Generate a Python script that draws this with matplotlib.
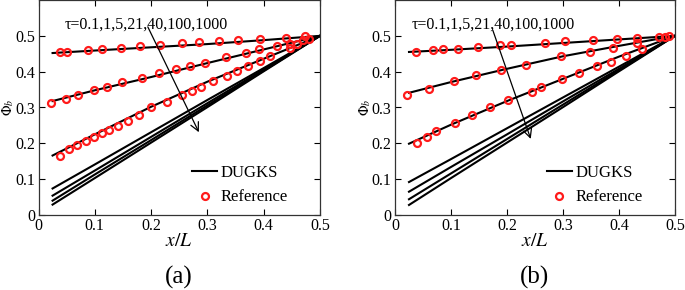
import matplotlib
matplotlib.use("Agg")
import matplotlib.pyplot as plt

plt.rcParams['font.family'] = ['Liberation Serif', 'DejaVu Serif']
plt.rcParams['mathtext.fontset'] = 'stix'

taus_label = r"τ=0.1,1,5,21,40,100,1000"

# DUGKS line sample positions (x/L)
line_x = [0.025, 0.1, 0.2, 0.3, 0.4, 0.5]

# Panel (a) DUGKS lines, tau = 0.1, 1, 5, 21, 40, 100, 1000
a_lines = [
    [0.452, 0.459, 0.468, 0.477, 0.488, 0.5],
    [0.318, 0.348, 0.385, 0.424, 0.462, 0.5],
    [0.166, 0.225, 0.302, 0.372, 0.436, 0.5],
    [0.074, 0.141, 0.231, 0.321, 0.410, 0.5],
    [0.054, 0.124, 0.218, 0.312, 0.406, 0.5],
    [0.040, 0.113, 0.209, 0.306, 0.403, 0.5],
    [0.029, 0.103, 0.202, 0.301, 0.401, 0.5],
]
# Panel (a) reference points
a_ref1_x = [0.038, 0.051, 0.088, 0.112, 0.146, 0.180, 0.215, 0.254, 0.285, 0.321, 0.355, 0.393, 0.440, 0.473]
a_ref1_y = [0.455, 0.455, 0.460, 0.462, 0.466, 0.471, 0.474, 0.479, 0.484, 0.485, 0.488, 0.492, 0.495, 0.499]
a_ref2_x = [0.023, 0.048, 0.071, 0.098, 0.122, 0.149, 0.183, 0.214, 0.245, 0.269, 0.296, 0.333, 0.369, 0.392, 0.423, 0.447, 0.470]
a_ref2_y = [0.313, 0.325, 0.336, 0.348, 0.357, 0.371, 0.383, 0.396, 0.408, 0.415, 0.425, 0.441, 0.453, 0.462, 0.471, 0.478, 0.489]
a_ref3_x = [0.038, 0.055, 0.068, 0.085, 0.098, 0.113, 0.126, 0.141, 0.159, 0.178, 0.200, 0.229, 0.254, 0.273,
            0.288, 0.310, 0.334, 0.353, 0.373, 0.393, 0.411, 0.447, 0.460, 0.480]
a_ref3_y = [0.166, 0.184, 0.194, 0.207, 0.218, 0.230, 0.238, 0.249, 0.263, 0.279, 0.300, 0.316, 0.336, 0.347,
            0.357, 0.373, 0.387, 0.401, 0.417, 0.429, 0.445, 0.467, 0.477, 0.490]

# Panel (b) DUGKS lines
b_lines = [
    [0.455, 0.461, 0.470, 0.480, 0.490, 0.5],
    [0.341, 0.371, 0.408, 0.443, 0.472, 0.5],
    [0.199, 0.252, 0.318, 0.380, 0.442, 0.5],
    [0.092, 0.156, 0.242, 0.328, 0.414, 0.5],
    [0.065, 0.134, 0.225, 0.317, 0.408, 0.5],
    [0.044, 0.116, 0.212, 0.308, 0.404, 0.5],
    [0.028, 0.103, 0.202, 0.301, 0.401, 0.5],
]
b_ref1_x = [0.0375, 0.067, 0.086, 0.112, 0.148, 0.188, 0.208, 0.268, 0.304, 0.353, 0.397, 0.433, 0.472, 0.483, 0.490]
b_ref1_y = [0.456, 0.460, 0.462, 0.464, 0.469, 0.475, 0.475, 0.481, 0.485, 0.489, 0.492, 0.495, 0.497, 0.498, 0.499]
b_ref2_x = [0.022, 0.060, 0.105, 0.144, 0.190, 0.234, 0.296, 0.348, 0.389, 0.432]
b_ref2_y = [0.334, 0.352, 0.374, 0.390, 0.406, 0.420, 0.443, 0.456, 0.467, 0.481]
b_ref3_x = [0.039, 0.058, 0.074, 0.107, 0.138, 0.170, 0.201, 0.244, 0.261, 0.298, 0.329, 0.361, 0.386, 0.413, 0.441]
b_ref3_y = [0.201, 0.218, 0.235, 0.257, 0.278, 0.301, 0.320, 0.344, 0.357, 0.380, 0.397, 0.415, 0.428, 0.445, 0.462]

x_ticks = [0, 0.1, 0.2, 0.3, 0.4, 0.5]
y_ticks = [0, 0.1, 0.2, 0.3, 0.4, 0.5]
x_tick_labels = ['0', '0.1', '0.2', '0.3', '0.4', '0.5']
y_tick_labels = ['0', '0.1', '0.2', '0.3', '0.4', '0.5']

fig = plt.figure(figsize=(6.85, 2.9), dpi=100)
ax_a = fig.add_axes([38.5/685, 75/290, (320-38.5)/685, 215/290])
ax_b = fig.add_axes([395/685, 75/290, 280/685, 215/290])

panels = [
    (ax_a, a_lines, [(a_ref1_x, a_ref1_y), (a_ref2_x, a_ref2_y), (a_ref3_x, a_ref3_y)],
     (0.047, 0.532), ((0.192, 0.532), (0.287, 0.224)), (0.273, 0.083), '(a)'),
    (ax_b, b_lines, [(b_ref1_x, b_ref1_y), (b_ref2_x, b_ref2_y), (b_ref3_x, b_ref3_y)],
     (0.030, 0.532), ((0.173, 0.523), (0.244, 0.205)), (0.271, 0.083), '(b)'),
]

for ax, lines, refs, txt_pos, arrow, leg_pos, lab in panels:
    for i, ly in enumerate(lines):
        ax.plot(line_x, ly, color='black', lw=1.5, label='DUGKS' if i == 0 else None, zorder=2)
    for i, (rx, ry) in enumerate(refs):
        ax.plot(rx, ry, linestyle='none', marker='o', markersize=5, mfc='none', mec='#ff1a1a',
                mew=1.6, label='Reference' if i == 0 else None, zorder=3)
    ax.set_xlim(0, 0.5)
    ax.set_ylim(0, 0.6)
    ax.set_xticks(x_ticks)
    ax.set_xticklabels(x_tick_labels)
    ax.set_yticks(y_ticks)
    ax.set_yticklabels(y_tick_labels)
    ax.tick_params(direction='in', top=True, right=True, labelsize=11.5, length=4, width=0.8, pad=2.5)
    for s in ax.spines.values():
        s.set_linewidth(0.9)
        s.set_color('#333333')
    ax.set_xlabel(r'$x/L$', fontsize=14, labelpad=-1)
    ax.set_ylabel(r'$\Phi_b$', fontsize=10)
    ax.yaxis.set_label_coords(-0.08, 0.5)
    ax.text(txt_pos[0], txt_pos[1], taus_label, fontsize=11.5, va='center', ha='left')
    ax.annotate('', xy=arrow[1], xytext=arrow[0],
                arrowprops=dict(arrowstyle='->', color='black', lw=0.9, mutation_scale=15))
    ax.legend(loc='center left', bbox_to_anchor=leg_pos, frameon=False, fontsize=12,
              handlelength=1.5, handletextpad=0.2, labelspacing=0.5, borderpad=0,
              borderaxespad=0, bbox_transform=ax.transData)
    ax.text(0.497, -0.29, lab, transform=ax.transAxes, fontsize=18, ha='center', va='center')

fig.savefig('out.png', dpi=100)
